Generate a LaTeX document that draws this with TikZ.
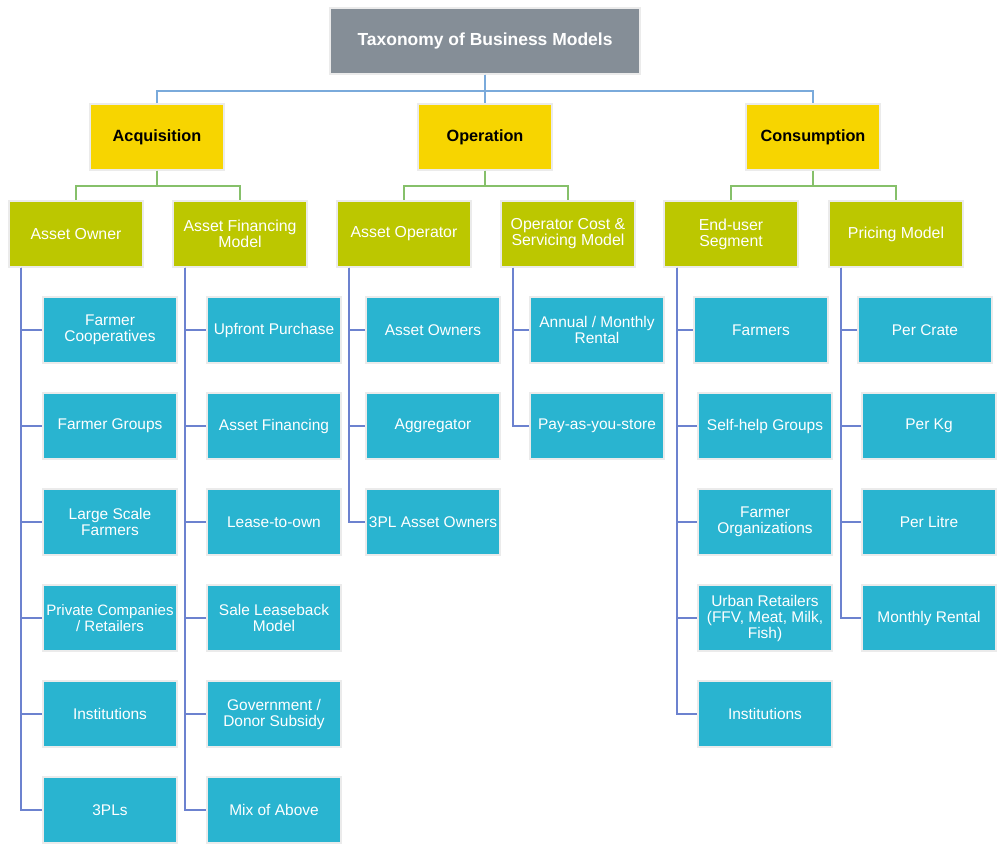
\documentclass[tikz,border=0pt]{standalone}
\usepackage{fontspec}
\setmainfont{Liberation Sans}
\usetikzlibrary{positioning}
\definecolor{titlegray}{HTML}{858E97}
\definecolor{catyellow}{HTML}{F7D500}
\definecolor{subolive}{HTML}{BCC700}
\definecolor{leafcyan}{HTML}{29B4D0}
\definecolor{toplink}{HTML}{7AAADB}
\definecolor{catlink}{HTML}{86C06A}
\definecolor{leaflink}{HTML}{6C82CF}

\tikzset{
  box/.style={rectangle, draw=black!8, line width=0.8pt, minimum width=100.5pt,
    minimum height=49.5pt, align=center, inner sep=1pt},
  titlebox/.style={box, fill=titlegray, text=white, minimum width=232.5pt,
    font=\fontsize{13.1}{15}\selectfont\bfseries},
  catbox/.style={box, fill=catyellow, text=black, font=\fontsize{12.2}{14}\selectfont\bfseries},
  subbox/.style={box, fill=subolive, text=white, font=\fontsize{11.9}{12}\selectfont},
  leafbox/.style={box, fill=leafcyan, text=white, font=\fontsize{11.6}{12}\selectfont},
  topline/.style={draw=toplink, line width=1.5pt},
  catline/.style={draw=catlink, line width=1.5pt},
  leafline/.style={draw=leaflink, line width=1.5pt}
}

\begin{document}
\begin{tikzpicture}[x=0.75pt, y=-0.75pt]
  \useasboundingbox (0,0) rectangle (999,845);

  % top levels
  \node [titlebox] (tax) at (485,41) {Taxonomy of Business Models};
  \node [catbox] (acq) at (157,137) {Acquisition};
  \node [catbox] (opr) at (485,137) {Operation};
  \node [catbox] (con) at (813,137) {Consumption};

  \node [subbox] (aown) at (76,234) {Asset Owner};
  \node [subbox] (afin) at (240,234) {Asset Financing\\Model};
  \node [subbox] (aopr) at (404,234) {Asset Operator};
  \node [subbox] (ocost) at (568,234) {Operator Cost \&\\Servicing Model};
  \node [subbox] (euser) at (731,234) {End-user\\Segment};
  \node [subbox] (price) at (896,234) {Pricing Model};

  % leaves
  \node [leafbox] (ao1) at (110,330) {Farmer\\Cooperatives};
  \node [leafbox] (ao2) at (110,426) {Farmer Groups};
  \node [leafbox] (ao3) at (110,522) {Large Scale\\Farmers};
  \node [leafbox, font=\fontsize{11.3}{12}\selectfont] (ao4) at (110,618) {Private Companies\\/ Retailers};
  \node [leafbox] (ao5) at (110,714) {Institutions};
  \node [leafbox] (ao6) at (110,810) {3PLs};

  \node [leafbox] (af1) at (274,330) {Upfront Purchase};
  \node [leafbox] (af2) at (274,426) {Asset Financing};
  \node [leafbox] (af3) at (274,522) {Lease-to-own};
  \node [leafbox] (af4) at (274,618) {Sale Leaseback\\Model};
  \node [leafbox] (af5) at (274,714) {Government /\\Donor Subsidy};
  \node [leafbox] (af6) at (274,810) {Mix of Above};

  \node [leafbox] (op1) at (433,330) {Asset Owners};
  \node [leafbox] (op2) at (433,426) {Aggregator};
  \node [leafbox] (op3) at (433,522) {3PL Asset Owners};

  \node [leafbox] (oc1) at (597,330) {Annual / Monthly\\Rental};
  \node [leafbox] (oc2) at (597,426) {Pay-as-you-store};

  \node [leafbox] (eu1) at (761,330) {Farmers};
  \node [leafbox] (eu2) at (765,426) {Self-help Groups};
  \node [leafbox] (eu3) at (765,522) {Farmer\\Organizations};
  \node [leafbox] (eu4) at (765,618) {Urban Retailers\\(FFV, Meat, Milk,\\Fish)};
  \node [leafbox] (eu5) at (765,714) {Institutions};

  \node [leafbox] (pm1) at (925,330) {Per Crate};
  \node [leafbox] (pm2) at (929,426) {Per Kg};
  \node [leafbox] (pm3) at (929,522) {Per Litre};
  \node [leafbox] (pm4) at (929,618) {Monthly Rental};

  % connectors
  \draw [topline] (tax.south) -- ++(0,16) -| (acq.north);
  \draw [topline] (tax.south) -- ++(0,16) -| (con.north);
  \draw [topline] (tax.south) -- (opr.north);

  \draw [catline] (acq.south) -- ++(0,15) -| (aown.north);
  \draw [catline] (acq.south) -- ++(0,15) -| (afin.north);
  \draw [catline] (opr.south) -- ++(0,15) -| (aopr.north);
  \draw [catline] (opr.south) -- ++(0,15) -| (ocost.north);
  \draw [catline] (con.south) -- ++(0,15) -| (euser.north);
  \draw [catline] (con.south) -- ++(0,15) -| (price.north);

  \foreach \i in {1,...,6} {
    \draw [leafline] ([xshift=9.75pt]aown.south west) |- (ao\i.west);
    \draw [leafline] ([xshift=9.75pt]afin.south west) |- (af\i.west);
  }
  \foreach \i in {1,...,3}
    \draw [leafline] ([xshift=9.75pt]aopr.south west) |- (op\i.west);
  \foreach \i in {1,2}
    \draw [leafline] ([xshift=9.75pt]ocost.south west) |- (oc\i.west);
  \foreach \i in {1,...,5}
    \draw [leafline] ([xshift=10.5pt]euser.south west) |- (eu\i.west);
  \foreach \i in {1,...,4}
    \draw [leafline] ([xshift=9.75pt]price.south west) |- (pm\i.west);
\end{tikzpicture}
\end{document}
